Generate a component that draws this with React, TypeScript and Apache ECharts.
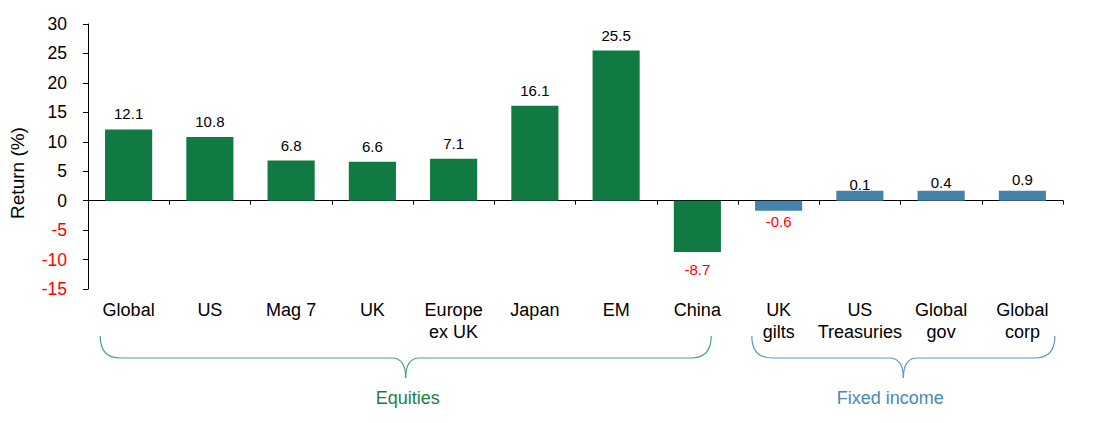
import React, { useEffect, useRef } from "react";
import * as echarts from "echarts";

const categories = [
  "Global", "US", "Mag 7", "UK", "Europe\nex UK", "Japan", "EM", "China",
  "UK\ngilts", "US\nTreasuries", "Global\ngov", "Global\ncorp",
];
// Return values shown in the labels
const returns = [12.1, 10.8, 6.8, 6.6, 7.1, 16.1, 25.5, -8.7, -0.6, 0.1, 0.4, 0.9];
// Bar heights as drawn in the picture
const barHeights = [12.1, 10.8, 6.8, 6.6, 7.1, 16.1, 25.5, -8.7, -1.7, 1.7, 1.7, 1.7];
const returnLabels = ["12.1", "10.8", "6.8", "6.6", "7.1", "16.1", "25.5", "-8.7", "-0.6", "0.1", "0.4", "0.9"];
const groupNames = ["Equities", "Fixed income"];
const groupStart = [0, 8];
const groupEnd = [7, 11];
const yMin = -15;
const yMax = 30;
const yStep = 5;

const GREEN = "#117a42";
const BLUE = "#4583ab";
const FONT = "'Liberation Sans', Arial, sans-serif";

export default function App() {
  const ref = useRef<HTMLDivElement>(null);

  useEffect(() => {
    if (!ref.current) return;
    const chart = echarts.init(ref.current, null, { renderer: "svg" });
    const barColors = categories.map((_, i) => (i < groupStart[1] ? GREEN : BLUE));

    chart.setOption({
      animation: false,
      textStyle: { fontFamily: FONT },
      grid: { left: 88, right: 42, top: 24, bottom: 134, containLabel: false },
      xAxis: [
        {
          type: "category",
          data: categories,
          position: "bottom",
          axisLine: { show: false, onZero: false },
          axisTick: { show: false },
          axisLabel: { interval: 0, fontSize: 18, color: "#000", margin: 10, lineHeight: 22, fontFamily: FONT },
        },
        {
          type: "category",
          data: categories,
          position: "bottom",
          axisLine: { show: true, onZero: true, lineStyle: { color: "#000", width: 1 } },
          axisTick: { show: true, length: 4, inside: false, lineStyle: { color: "#000" } },
          axisLabel: { show: false },
        },
      ],
      yAxis: {
        type: "value",
        min: yMin,
        max: yMax,
        interval: yStep,
        axisLine: { show: true, lineStyle: { color: "#000", width: 1 } },
        axisTick: { show: true, length: 5, inside: false, lineStyle: { color: "#000" } },
        splitLine: { show: false },
        axisLabel: {
          fontSize: 17.5,
          margin: 21,
          fontFamily: FONT,
          color: (v: any) => (Number(v) < 0 ? "#ff0000" : "#000"),
        },
      },
      series: [
        {
          type: "bar",
          xAxisIndex: 0,
          barWidth: "58%",
          data: barHeights.map((v, i) => ({ value: v, itemStyle: { color: barColors[i] } })),
          label: { show: false },
        },
        {
          type: "bar",
          xAxisIndex: 0,
          barWidth: "58%",
          barGap: "-100%",
          itemStyle: { color: "rgba(0,0,0,0)" },
          data: returns.map((v, i) => ({
            value: v,
            label: {
              show: true,
              position: v < 0 ? "bottom" : "top",
              distance: v < 0 ? 10 : 8,
              color: v < 0 ? "#ff0000" : "#000",
              fontSize: 15,
              fontFamily: FONT,
              formatter: () => returnLabels[i],
            },
          })),
        },
      ],
    });

    const px = (i: number) => chart.convertToPixel({ xAxisIndex: 0 }, i) as number;
    const catW = px(1) - px(0);
    const leftEdge = (i: number) => px(i) - catW / 2;
    const rightEdge = (i: number) => px(i) + catW / 2;

    const yTop = 336;
    const yMid = 358;
    const yTip = 378;
    const r = 20;
    const midHalf = 14;

    const brace = (x0: number, x1: number, color: string) => {
      const c = (x0 + x1) / 2;
      const st = { stroke: color, lineWidth: 1.2, fill: "none" };
      return [
        { type: "bezierCurve", shape: { x1: x0, y1: yTop, cpx1: x0, cpy1: yMid, x2: x0 + r, y2: yMid }, style: st },
        { type: "line", shape: { x1: x0 + r, y1: yMid, x2: c - midHalf, y2: yMid }, style: st },
        { type: "bezierCurve", shape: { x1: c - midHalf, y1: yMid, cpx1: c, cpy1: yMid, x2: c, y2: yTip }, style: st },
        { type: "bezierCurve", shape: { x1: c + midHalf, y1: yMid, cpx1: c, cpy1: yMid, x2: c, y2: yTip }, style: st },
        { type: "line", shape: { x1: c + midHalf, y1: yMid, x2: x1 - r, y2: yMid }, style: st },
        { type: "bezierCurve", shape: { x1: x1, y1: yTop, cpx1: x1, cpy1: yMid, x2: x1 - r, y2: yMid }, style: st },
      ];
    };

    const eqX0 = leftEdge(groupStart[0]) + catW * 0.15;
    const eqX1 = rightEdge(groupEnd[0]) - catW * 0.33;
    const fiX0 = leftEdge(groupStart[1]) + catW * 0.17;
    const fiX1 = rightEdge(groupEnd[1]) - catW * 0.1;

    const textEl = (x: number, y: number, text: string, color: string, size: number, rotation = 0) => ({
      type: "text",
      x,
      y,
      rotation,
      style: {
        text,
        fill: color,
        fontSize: size,
        fontFamily: FONT,
        align: "center",
        verticalAlign: "middle",
        textAlign: "center",
        textVerticalAlign: "middle",
      },
    });

    chart.setOption({
      graphic: [
        ...brace(eqX0, eqX1, "#4ea377"),
        ...brace(fiX0, fiX1, "#5f97bd"),
        textEl((eqX0 + eqX1) / 2 + 2, 398, groupNames[0], "#1a7f45", 18),
        textEl((fiX0 + fiX1) / 2 - 13, 398, groupNames[1], "#4a89b5", 18),
        textEl(17, 173, "Return (%)", "#000", 19, Math.PI / 2),
      ],
    });

    return () => chart.dispose();
  }, []);

  return (
    <div
      ref={ref}
      style={{ position: "fixed", left: 0, top: 0, width: 1105, height: 423, background: "#fff" }}
    />
  );
}
